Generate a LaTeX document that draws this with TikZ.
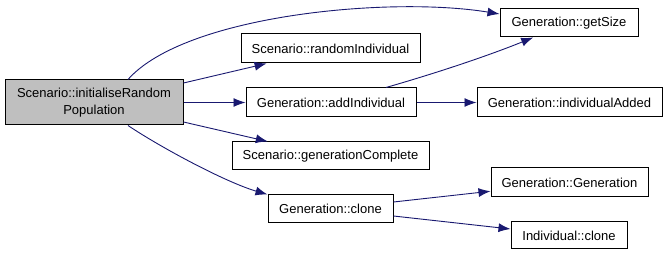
\documentclass[tikz,border=0pt]{standalone}
\usepackage{fontspec}
\setmainfont{Liberation Sans}
\usetikzlibrary{arrows.meta}

\definecolor{edgeblue}{HTML}{191970}
\definecolor{callerfill}{HTML}{BFBFBF}

\begin{document}
\begin{tikzpicture}[x=1pt, y=-1pt, >={Latex[length=12pt,width=9pt]},
    font=\fontsize{13}{17}\selectfont]

    % estilos
    \tikzstyle{func}=[rectangle, draw, line width=1pt, inner sep=0pt, align=center]
    \tikzstyle{caller}=[func, fill=callerfill]
    \tikzstyle{call}=[->, line width=0.9pt, edgeblue]

    \useasboundingbox (0,0) rectangle (667,256);

    % funcao chamadora
    \node[caller, minimum width=178pt, minimum height=45pt] (init) at (94,102.5)
        {Scenario::initialiseRandom\\Population};

    % funcoes chamadas
    \node[func, minimum width=179pt, minimum height=29pt] (randInd) at (330.5,48.5) {Scenario::randomIndividual};
    \node[func, minimum width=170pt, minimum height=29pt] (addInd) at (331,102.5) {Generation::addIndividual};
    \node[func, minimum width=197pt, minimum height=28pt] (genComplete) at (330.5,156) {Scenario::generationComplete};
    \node[func, minimum width=125pt, minimum height=28pt] (genClone) at (330.5,209) {Generation::clone};
    \node[func, minimum width=138pt, minimum height=28pt] (getSize) at (569,23) {Generation::getSize};
    \node[func, minimum width=185pt, minimum height=29pt] (indAdded) at (569.5,102.5) {Generation::individualAdded};
    \node[func, minimum width=157pt, minimum height=29pt] (genGen) at (569.5,182.5) {Generation::Generation};
    \node[func, minimum width=116pt, minimum height=27pt] (indClone) at (569,235.5) {Individual::clone};

    % chamadas de initialiseRandomPopulation
    \draw[call] ([xshift=34pt]init.north) .. controls (185,15) and (390,-4) .. ([yshift=9pt]getSize.west);
    \draw[call] ([yshift=19.5pt]init.east) -- (randInd);
    \draw[call] (init) -- (addInd);
    \draw[call] ([yshift=-19.5pt]init.east) -- (genComplete);
    \draw[call] ([xshift=34pt]init.south) .. controls (160,147) and (225,182) .. (genClone.north west);

    % chamadas internas
    \draw[call] ([xshift=55pt]addInd.north) .. controls (440,72) and (490,55) .. (getSize);
    \draw[call] (addInd) -- (indAdded);
    \draw[call] ([yshift=7pt]genClone.east) -- (genGen);
    \draw[call] ([yshift=-7pt]genClone.east) -- (indClone);

\end{tikzpicture}
\end{document}
